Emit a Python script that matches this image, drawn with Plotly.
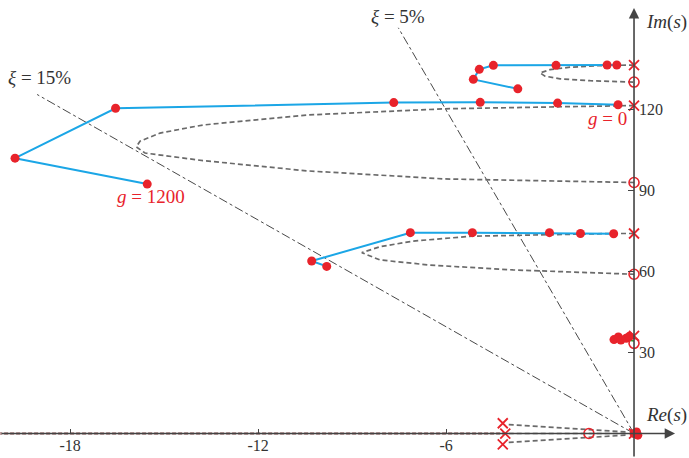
import math
import plotly.graph_objects as go

# ---------------- data ----------------
# Root-locus branches: gain steps (red dots joined by blue line)
b1_x = [-0.55, -0.86, -2.49, -4.49, -4.94, -5.13, -3.71]
b1_y = [136.5, 136.5, 136.4, 136.4, 134.9, 131.2, 127.7]
b2_x = [-0.51, -2.44, -4.91, -7.67, -16.55, -19.76, -15.54]
b2_y = [121.8, 122.4, 122.7, 122.6, 120.5, 102.0, 92.4]
b3_x = [-0.65, -1.71, -2.70, -5.16, -7.14, -10.29, -9.81]
b3_y = [74.0, 74.1, 74.4, 74.4, 74.4, 63.9, 61.9]
b4_x = [-0.64, -0.50, -0.42, -0.25, -0.15]
b4_y = [34.8, 35.8, 34.6, 35.3, 36.0]
b0_x = [0.0, 0.08, 0.12]
b0_y = [0.0, 0.6, -0.6]

# Open-loop poles (x) and zeros (o)
poles_x = [0, 0, 0, 0, -4.19, -4.11, -4.19, 0]
poles_y = [136.5, 121.5, 74.1, 36.2, 3.8, 0, -4.0, 0]
zeros_x = [0, 0, 0, 0, -1.44]
zeros_y = [130.2, 93.0, 59.0, 33.4, 0]

# Continuous loci (dashed grey)
d1_x = [0, -1.09, -2.04, -2.68, -3.0, -2.84, -2.36, -1.4, 0]
d1_y = [136.5, 136.3, 135.7, 134.8, 133.6, 132.4, 131.4, 130.7, 130.2]
d2_x = [0, -0.54, -6.03, -10.44, -13.76, -15.13, -15.77, -15.89, -15.61,
        -13.76, -10.44, -6.03, 0]
d2_y = [121.5, 121.4, 120.3, 118.0, 114.3, 111.3, 108.3, 106.2, 103.9,
        101.1, 97.3, 94.3, 93.0]
d3_x = [0, -0.67, -5.17, -7.05, -8.11, -8.69, -8.11, -6.51, -3.86, -0.67, 0]
d3_y = [74.1, 74.1, 73.1, 71.3, 69.2, 67.0, 64.3, 62.4, 60.6, 59.3, 59.0]
d_re_up_x = [-4.0, -0.25]
d_re_up_y = [3.3, 0.6]
d_re_dn_x = [-4.0, -0.25]
d_re_dn_y = [-3.3, -0.6]
d_re_mid_x = [-4.0, -0.2]
d_re_mid_y = [0, 0]
d_re_axis_x = [-20.3, -4.1]
d_re_axis_y = [0, 0]
g4_x = [-0.45, 0.0]
g4_y = [35.0, 34.3]

# Damping-ratio lines
xi_vals = [0.05, 0.15]
xi_len = [150.3, 125.6]

# Axis ticks
xticks = [-18, -12, -6]
xtick_text = ["-18", "-12", "-6"]
yticks = [30, 60, 90, 120]
ytick_text = ["30", "60", "90", "120"]

XR = [-20.24, 1.755]
YR = [-9.07, 160.6]

RED = "#e8232b"
BLUE = "#1ba6e6"
GREY = "#6a6a6a"
AX = "#444444"
FONT = "Liberation Serif"

fig = go.Figure()

# damping lines
for xi, L in zip(xi_vals, xi_len):
    xe = -L * xi / math.sqrt(1 - xi * xi)
    fig.add_trace(go.Scatter(x=[0, xe], y=[0, L], mode="lines",
                             line=dict(color="#333333", width=0.9, dash="dashdot"),
                             hoverinfo="skip"))

# real-axis faint dashed overlay
fig.add_trace(go.Scatter(x=d_re_axis_x, y=d_re_axis_y, mode="lines",
                         line=dict(color="#c0a0a0", width=3, dash="4px,2px"),
                         hoverinfo="skip"))

# dashed loci
for xs, ys in [(d1_x, d1_y), (d2_x, d2_y), (d3_x, d3_y), (d_re_up_x, d_re_up_y),
               (d_re_dn_x, d_re_dn_y), (d_re_mid_x, d_re_mid_y)]:
    fig.add_trace(go.Scatter(x=xs, y=ys, mode="lines",
                             line=dict(color=GREY, width=1.7, dash="5px,3px"),
                             hoverinfo="skip"))

fig.add_trace(go.Scatter(x=g4_x, y=g4_y, mode="lines",
                         line=dict(color="#2ca02c", width=1.5), hoverinfo="skip"))

# gain-step branches
for xs, ys in [(b1_x, b1_y), (b2_x, b2_y), (b3_x, b3_y)]:
    fig.add_trace(go.Scatter(x=xs, y=ys, mode="lines+markers",
                             line=dict(color=BLUE, width=2),
                             marker=dict(color=RED, size=9)))
for xs, ys in [(b4_x, b4_y), (b0_x, b0_y)]:
    fig.add_trace(go.Scatter(x=xs, y=ys, mode="markers",
                             marker=dict(color=RED, size=9)))

# poles and zeros
fig.add_trace(go.Scatter(x=poles_x, y=poles_y, mode="markers",
                         marker=dict(symbol="x-thin", size=10, color=RED,
                                     line=dict(color=RED, width=1.8))))
fig.add_trace(go.Scatter(x=zeros_x, y=zeros_y, mode="markers",
                         marker=dict(symbol="circle-open", size=10, color=RED,
                                     line=dict(color=RED, width=1.6))))

# axis arrows
fig.add_annotation(x=1.31, y=0, ax=XR[0], ay=0, xref="x", yref="y",
                   axref="x", ayref="y", text="", showarrow=True,
                   arrowhead=2, arrowsize=1.3, arrowwidth=1.6, arrowcolor=AX)
fig.add_annotation(x=0, y=157.6, ax=0, ay=YR[0], xref="x", yref="y",
                   axref="x", ayref="y", text="", showarrow=True,
                   arrowhead=2, arrowsize=1.3, arrowwidth=1.6, arrowcolor=AX)

def label(x, y, txt, color="#333333", size=19, xanchor="center"):
    fig.add_annotation(x=x, y=y, xref="x", yref="y", text=txt, showarrow=False,
                       xanchor=xanchor, yanchor="middle",
                       font=dict(family=FONT, size=size, color=color))

label(-18.98, 131.8, "<i>ξ</i> = 15%")
label(-7.53, 154.4, "<i>ξ</i> = 5%")
label(-0.86, 116.7, "<i>g</i> = 0", color=RED)
label(-15.42, 87.7, "<i>g</i> = 1200", color=RED)
label(0.33, 152.5, "<i>Im</i>(<i>s</i>)", xanchor="left")
label(0.33, 6.9, "<i>Re</i>(<i>s</i>)", xanchor="left")

fig.update_layout(
    width=689, height=458,
    margin=dict(l=0, r=0, t=0, b=0),
    paper_bgcolor="white", plot_bgcolor="white",
    showlegend=False,
    xaxis=dict(range=XR, showgrid=False, zeroline=False, showline=False,
               tickvals=xticks, ticktext=xtick_text, ticks="inside",
               ticklen=5, tickwidth=1.2, tickcolor=AX,
               anchor="free", position=(0 - YR[0]) / (YR[1] - YR[0]),
               tickfont=dict(family=FONT, size=16, color="#333333")),
    yaxis=dict(range=YR, showgrid=False, zeroline=False, showline=False,
               tickvals=yticks, ticktext=ytick_text, ticks="inside",
               ticklen=6, tickwidth=1.2, tickcolor=AX, side="right",
               anchor="free", position=(0 - XR[0]) / (XR[1] - XR[0]),
               ticklabelstandoff=4,
               tickfont=dict(family=FONT, size=16, color="#333333")),
)

fig.write_html("out.html", config={"displayModeBar": False},
               post_script="document.body.style.margin='0';")
